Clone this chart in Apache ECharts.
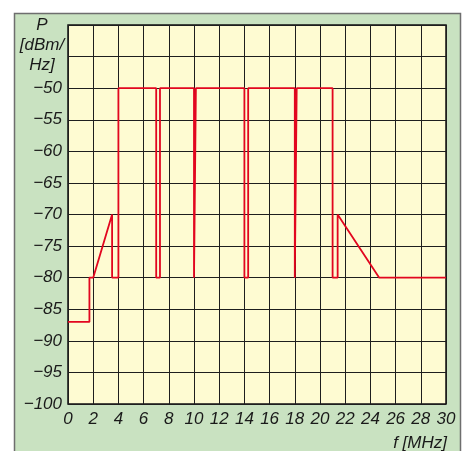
<!DOCTYPE html>
<html>
<head>
<meta charset="utf-8">
<script src="https://cdn.jsdelivr.net/npm/echarts@6/dist/echarts.min.js"></script>
<style>
  html, body { margin: 0; padding: 0; background: #fff; }
  #chart { width: 468px; height: 451px; }
</style>
</head>
<body>
<div id="chart"></div>
<script>
// spectrum mask: frequency (MHz) and level (dBm/Hz)
const freq = [0, 1.7, 1.7, 2.0, 3.5, 3.5, 4.0, 4.0, 7.0, 7.0, 7.3, 7.3, 10.0, 10.0, 10.15, 10.15,
  14.0, 14.0, 14.3, 14.3, 18.0, 18.0, 18.15, 18.15, 21.0, 21.0, 21.4, 21.4, 24.7, 30]
const level = [-87, -87, -80, -80, -70, -80, -80, -50, -50, -80, -80, -50, -50, -80, -80, -50,
  -50, -80, -80, -50, -50, -80, -80, -50, -50, -80, -80, -70, -80, -80]
const yLabels = [-100, -95, -90, -85, -80, -75, -70, -65, -60, -55, -50]

const labelFont = {
  fontFamily: 'Liberation Sans',
  fontStyle: 'italic',
  fontSize: 17,
  fill: '#1a1a1a',
  color: '#1a1a1a'
}

const chart = echarts.init(document.getElementById('chart'))
const option = {
  animation: false,
  graphic: [
    {
      type: 'rect',
      z: -10,
      shape: { x: 14.5, y: 13.5, width: 446, height: 460 },
      style: { fill: '#c9e2c1', stroke: '#6e6e6e', lineWidth: 1.5 }
    },
    {
      type: 'text',
      x: 42,
      y: 15,
      style: Object.assign({}, labelFont, {
        text: 'P\n[dBm/\nHz]',
        align: 'center',
        verticalAlign: 'top',
        lineHeight: 20
      })
    },
    {
      type: 'text',
      x: 447,
      y: 443,
      style: Object.assign({}, labelFont, {
        text: 'f [MHz]',
        align: 'right',
        verticalAlign: 'middle'
      })
    }
  ],
  grid: {
    left: 68,
    top: 25,
    width: 378,
    height: 379,
    show: true,
    backgroundColor: '#fefbd2',
    borderColor: '#111',
    borderWidth: 1.5
  },
  xAxis: {
    type: 'value',
    min: 0,
    max: 30,
    interval: 2,
    axisLine: { show: false },
    axisTick: { show: false },
    axisLabel: Object.assign({}, labelFont, { margin: 7 }),
    splitLine: { lineStyle: { color: '#1e1e1e', width: 1 } }
  },
  yAxis: {
    type: 'value',
    min: -100,
    max: -40,
    interval: 5,
    axisLine: { show: false },
    axisTick: { show: false },
    axisLabel: Object.assign({}, labelFont, {
      margin: 6,
      formatter: v => yLabels.includes(v) ? '\u2212' + Math.abs(v) : ''
    }),
    splitLine: { lineStyle: { color: '#1e1e1e', width: 1 } }
  },
  series: [{
    type: 'line',
    data: freq.map((f, i) => [f, level[i]]),
    symbol: 'none',
    lineStyle: { color: '#e2061f', width: 1.8 }
  }]
}
chart.setOption(option)
</script>
</body>
</html>
